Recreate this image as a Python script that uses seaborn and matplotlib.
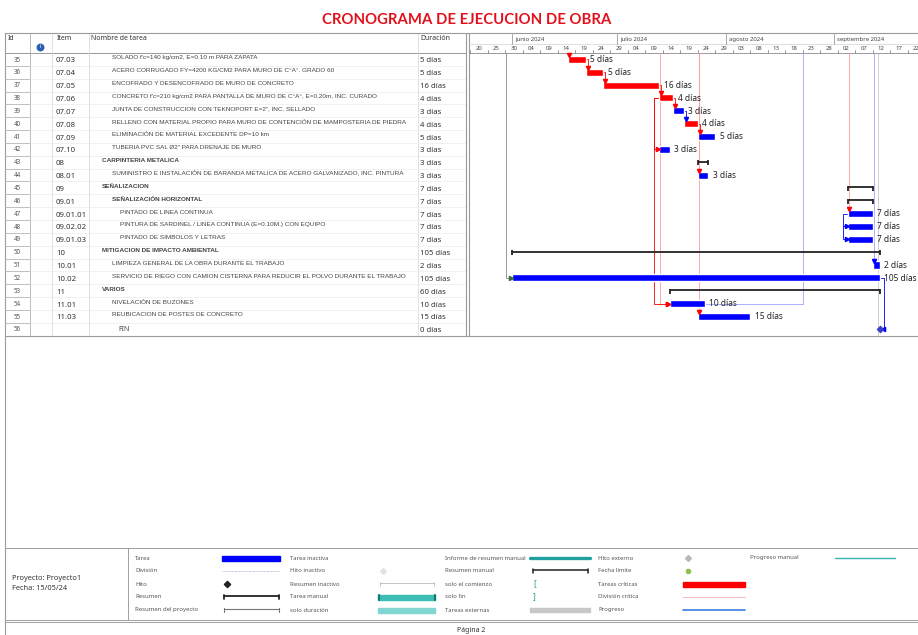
import numpy as np
import pandas as pd
import matplotlib.pyplot as plt
import matplotlib.dates as mdates
from matplotlib.patches import Rectangle
import seaborn as sns

sns.set_theme(style="white")
plt.rcParams["font.family"] = ["Noto Sans", "DejaVu Sans"]

title = "CRONOGRAMA DE EJECUCION DE OBRA"
task_ids = list(range(35, 57))
items = ["07.03", "07.04", "07.05", "07.06", "07.07", "07.08", "07.09", "07.10",
         "08", "08.01", "09", "09.01", "09.01.01", "09.02.02", "09.01.03",
         "10", "10.01", "10.02", "11", "11.01", "11.03", ""]
names = [
    "SOLADO f'c=140 kg/cm2, E=0.10 m PARA ZAPATA",
    "ACERO CORRUGADO FY=4200 KG/CM2 PARA MURO DE C°A°. GRADO 60",
    "ENCOFRADO Y DESENCOFRADO DE MURO DE CONCRETO",
    "CONCRETO f'c=210 kg/cm2 PARA PANTALLA DE MURO DE C°A°, E=0.20m, INC. CURADO",
    "JUNTA DE CONSTRUCCION CON TEKNOPORT E=2\", INC. SELLADO",
    "RELLENO CON MATERIAL PROPIO PARA MURO DE CONTENCIÓN DE MAMPOSTERIA DE PIEDRA",
    "ELIMINACIÓN DE MATERIAL EXCEDENTE DP=10 km",
    "TUBERIA PVC SAL Ø2\" PARA DRENAJE DE MURO",
    "CARPINTERIA METALICA",
    "SUMINISTRO E INSTALACIÓN DE BARANDA METALICA DE ACERO GALVANIZADO, INC. PINTURA",
    "SEÑALIZACION",
    "SEÑALIZACIÓN HORIZONTAL",
    "PINTADO DE LINEA CONTINUA",
    "PINTURA DE SARDINEL / LINEA CONTINUA (E=0.10M.) CON EQUIPO",
    "PINTADO DE SIMBOLOS Y LETRAS",
    "MITIGACION DE IMPACTO AMBIENTAL",
    "LIMPIEZA GENERAL DE LA OBRA DURANTE EL TRABAJO",
    "SERVICIO DE RIEGO CON CAMION CISTERNA PARA REDUCIR EL POLVO DURANTE EL TRABAJO",
    "VARIOS",
    "NIVELACIÓN DE BUZONES",
    "REUBICACION DE POSTES DE CONCRETO",
    "FIN",
]
levels = [2, 2, 2, 2, 2, 2, 2, 2, 1, 2, 1, 2, 3, 3, 3, 1, 2, 2, 1, 2, 2, 2]
durations = [5, 5, 16, 4, 3, 4, 5, 3, 3, 3, 7, 7, 7, 7, 7, 105, 2, 105, 60, 10, 15, 0]
start_dates = ["2024-06-17", "2024-06-22", "2024-06-27", "2024-07-13", "2024-07-17",
               "2024-07-20", "2024-07-24", "2024-07-13", "2024-07-24", "2024-07-24",
               "2024-09-05", "2024-09-05", "2024-09-05", "2024-09-05", "2024-09-05",
               "2024-06-01", "2024-09-12", "2024-06-01", "2024-07-16", "2024-07-16",
               "2024-07-24", "2024-09-14"]
kinds = ["crit", "crit", "crit", "crit", "task", "crit", "task", "task", "sum", "task",
         "sum", "sum", "task", "task", "task", "sum", "task", "task", "sum", "task",
         "task", "mile"]

fs_links = [(35, 36), (36, 37), (37, 38), (38, 39), (39, 40), (40, 41), (52, 56)]
ss_links = [(38, 42), (38, 54), (47, 48), (48, 49)]
# links coming from tasks on the previous page (target, critical)
page_in = [(35, True), (44, True), (55, True), (47, True), (51, False), (52, False), (54, True)]
page_out = [(54, "2024-08-23")]

scale_start = "2024-05-20"
scale_end = "2024-09-22"
month_labels = ["junio 2024", "julio 2024", "agosto 2024", "septiembre 2024"]
month_starts = ["2024-06-01", "2024-07-01", "2024-08-01", "2024-09-01"]

project_name = "Proyecto: Proyecto1"
project_date = "Fecha: 15/05/24"
page_label = "Página 2"

legend_cols = [
    [("Tarea", "task"), ("División", "split"), ("Hito", "mile"),
     ("Resumen", "summary"), ("Resumen del proyecto", "proj_summary")],
    [("Tarea inactiva", "inactive_task"), ("Hito inactivo", "inactive_mile"),
     ("Resumen inactivo", "inactive_summary"), ("Tarea manual", "manual_task"),
     ("solo duración", "duration_only")],
    [("Informe de resumen manual", "manual_rollup"), ("Resumen manual", "manual_summary"),
     ("solo el comienzo", "start_only"), ("solo fin", "finish_only"),
     ("Tareas externas", "external")],
    [("Hito externo", "ext_mile"), ("Fecha límite", "deadline"),
     ("Tareas críticas", "critical"), ("División crítica", "crit_split"),
     ("Progreso", "progress")],
    [("Progreso manual", "manual_progress")],
]

df = pd.DataFrame({"id": task_ids, "item": items, "name": names, "level": levels,
                   "dur": durations, "start_date": start_dates, "kind": kinds})
df["row"] = np.arange(len(df))
df["start"] = mdates.date2num(pd.to_datetime(df["start_date"]))
df["end"] = df["start"] + df["dur"]
df = df.set_index("id", drop=False)

RED = "#ff0000"
BLUE = "#0000ff"
LRED = "#ff9c9c"
LBLUE = "#a0a0ff"

# ---- figure ----
W, H = 918, 635
fig = plt.figure(figsize=(W / 100, H / 100), dpi=100)


def px_axes(x0, y0, x1, y1, z=1):
    a = fig.add_axes([x0 / W, 1 - y1 / H, (x1 - x0) / W, (y1 - y0) / H], zorder=z)
    a.set_axis_off()
    return a


# frame axes in pixels
fa = px_axes(0, 0, W, H, z=0)
fa.set_xlim(0, W)
fa.set_ylim(H, 0)
fa.text(467, 20, title, color="#e3101c", fontsize=10.7, fontweight="bold",
        ha="center", va="center", family="Lato")
for xs, ys in [([5, 918], [33, 33]), ([5, 5], [33, 635]), ([5, 918], [336, 336]),
               ([466, 466], [33, 336]), ([469, 469], [33, 336])]:
    fa.plot(xs, ys, color="#9a9a9a", lw=0.8)

# row geometry
ROW_Y0, ROW_H = 59.4, 12.85
y_top = (34 - ROW_Y0) / ROW_H
y_bot = (336 - ROW_Y0) / ROW_H

# ---- table ----
ta = px_axes(5, 34, 466, 336)
ta.set_xlim(5, 466)
ta.set_ylim(y_bot, y_top)
ta.axhline(-0.5, color="#9a9a9a", lw=0.7)
for xc in [52, 89, 418]:
    ta.axvline(xc, color="#dadada", lw=0.6)
ta.axvline(30, color="#b0b0b0", lw=0.6)
for r in range(len(df)):
    ta.plot([5, 30], [r + 0.5, r + 0.5], color="#b5b5b5", lw=0.6)
    ta.plot([30, 466], [r + 0.5, r + 0.5], color="#ececec", lw=0.5)

hdr_y = -1.62
ta.text(8, hdr_y, "Id", fontsize=5, va="center", color="#333")
ta.text(57, hdr_y, "Item", fontsize=5, va="center", color="#333")
ta.text(91, hdr_y, "Nombre de tarea", fontsize=5, va="center", color="#333")
ta.text(420, hdr_y, "Duración", fontsize=5, va="center", color="#333")
ta.scatter([40], [-1.0], s=22, color="#2d5fae", zorder=3)
ta.text(40, -1.0, "i", fontsize=4, color="white", fontweight="bold",
        ha="center", va="center", zorder=4)

name_x = {1: 102, 2: 112, 3: 120}
for _, t in df.iterrows():
    r = t["row"]
    bold = "bold" if t["kind"] == "sum" else "normal"
    ta.text(17, r + 0.05, str(t["id"]), fontsize=4.5, ha="center", va="center", color="#555")
    ta.text(56, r + 0.12, t["item"], fontsize=5.6, va="center", color="#333", fontweight=bold)
    if t["kind"] == "mile":
        ta.text(118, r, t["name"], fontsize=5, va="center", color="#444")
    else:
        ta.text(name_x[t["level"]], r - 0.12, t["name"], fontsize=4.6, va="center",
                color="#444", fontweight=bold, family="Liberation Sans")
    ta.text(420, r + 0.12, f"{t['dur']} días", fontsize=5.6, va="center",
            color="#333", fontweight=bold)

# ---- gantt ----
ga = px_axes(469, 34, 918, 336)
d0 = mdates.date2num(pd.Timestamp(scale_start))
ga.set_xlim(d0 - 0.29, d0 + 128)
ga.set_ylim(y_bot, y_top)

# timescale
ga.axhline(-0.5, color="#9a9a9a", lw=0.7)
ga.axhline(-1.2, color="#d0d0d0", lw=0.5)
for lbl, ms in zip(month_labels, month_starts):
    m = mdates.date2num(pd.Timestamp(ms))
    ga.plot([m, m], [-1.95, -1.2], color="#999", lw=0.6)
    ga.text(m + 0.9, -1.58, lbl, fontsize=4.3, va="center", color="#444")
days = pd.date_range(scale_start, scale_end, freq="5D")
for d in days:
    x = mdates.date2num(d)
    ga.plot([x, x], [-0.5, -0.72], color="#888", lw=0.6)
    ga.text(x + 2.5, -0.85, d.strftime("%d"), fontsize=4.3, ha="center", va="center", color="#444")


def link_line(xs, ys, color, lw=0.6):
    ga.plot(xs, ys, color=color, lw=lw, zorder=2)


def arrow(x, y, mk, color):
    ga.plot(x, y, marker=mk, ms=3, color=color, mec=color, zorder=4, ls="none")


# links from previous page
for tid, crit in page_in:
    t = df.loc[tid]
    col = LRED if crit else LBLUE
    acol = RED if crit else BLUE
    if tid in (52, 54):
        x = t["start"] - (1.7 if tid == 52 else 2.7)
        link_line([x, x, t["start"]], [-0.5, t["row"], t["row"]],
                  "#8a8a8a" if tid == 52 else col)
        arrow(t["start"] - 0.3, t["row"], ">", acol if tid == 54 else "#3a6a3a")
    else:
        x = t["start"] + 0.4
        link_line([x, x], [-0.5, t["row"] - 0.3], col)
        arrow(x, t["row"] - 0.35, "v", acol)

for tid, ds in page_out:
    t = df.loc[tid]
    x = mdates.date2num(pd.Timestamp(ds))
    link_line([t["end"], x, x], [t["row"], t["row"], -0.5], LBLUE)

# project end guide
end_x = df["end"].max() - 0.4
ga.plot([end_x, end_x], [-0.5, y_bot], color="#c8c8c8", lw=0.6, zorder=1)

for p, s in fs_links:
    a, b = df.loc[p], df.loc[s]
    col = RED if a["kind"] == "crit" else BLUE
    if b["kind"] == "mile":
        x = a["end"] + 1.2
        link_line([a["end"], x, x, b["start"] + 0.6], [a["row"], a["row"], b["row"], b["row"]], col)
        arrow(b["start"] + 0.9, b["row"], "<", col)
    else:
        x = b["start"] + 0.6
        link_line([a["end"], x, x], [a["row"], a["row"], b["row"] - 0.3], col)
        arrow(x, b["row"] - 0.35, "v", col)

for p, s in ss_links:
    a, b = df.loc[p], df.loc[s]
    col = RED if a["kind"] == "crit" else BLUE
    x = min(a["start"], b["start"]) - 1.5
    link_line([a["start"], x, x, b["start"]], [a["row"], a["row"], b["row"], b["row"]], col)
    arrow(b["start"] - 0.3, b["row"], ">", col)

# bars
bars = df[df["kind"].isin(["task", "crit"])]
ga.barh(bars["row"], bars["dur"], left=bars["start"], height=0.55,
        color=[RED if k == "crit" else BLUE for k in bars["kind"]], zorder=3)
for _, t in bars.iterrows():
    ga.text(t["end"] + 1.3, t["row"] + 0.02, f"{t['dur']} días", fontsize=6,
            fontweight="bold", va="center", color="#222", zorder=5)

sums = df[df["kind"] == "sum"]
ga.hlines(sums["row"] - 0.05, sums["start"], sums["end"], color="#222", lw=1.3, zorder=3)
ga.vlines(sums["start"], sums["row"] - 0.15, sums["row"] + 0.25, color="#222", lw=1.3, zorder=3)
ga.vlines(sums["end"], sums["row"] - 0.15, sums["row"] + 0.25, color="#222", lw=1.3, zorder=3)

miles = df[df["kind"] == "mile"]
sns.scatterplot(x=miles["start"], y=miles["row"], marker="D", s=14, color="#3a3ad0",
                edgecolor="#3a3ad0", ax=ga, zorder=5, legend=False)
ga.set_xlim(d0 - 0.29, d0 + 128)
ga.set_ylim(y_bot, y_top)
ga.set_axis_off()

# ---- legend box ----
for xs, ys in [([5, 918], [548, 548]), ([5, 918], [620, 620]), ([5, 918], [622, 622]),
               ([128, 128], [548, 620])]:
    fa.plot(xs, ys, color="#a0a0a0", lw=0.7)
fa.text(12, 578, project_name, fontsize=5.3, va="center", color="#333")
fa.text(12, 589, project_date, fontsize=5.3, va="center", color="#333")
fa.text(457, 630, page_label, fontsize=5, va="center", color="#333")

label_x = [135, 290, 445, 598, 750]
sym_x = [(222, 280), (378, 435), (530, 590), (683, 745), (835, 895)]
row_y = [558, 571, 584, 597, 610]


def bracket(x0, x1, y, color, lw):
    fa.plot([x0, x1], [y - 1.2, y - 1.2], color=color, lw=lw)
    fa.plot([x0, x0], [y - 2.2, y + 2], color=color, lw=lw)
    fa.plot([x1, x1], [y - 2.2, y + 2], color=color, lw=lw)


def draw_sym(kind, x0, x1, y):
    if kind == "task":
        fa.add_patch(Rectangle((x0, y - 2.5), x1 - x0, 5, color=BLUE))
    elif kind == "critical":
        fa.add_patch(Rectangle((x0, y - 2.5), x1 - x0, 5, color=RED))
    elif kind == "external":
        fa.add_patch(Rectangle((x0, y - 2.2), x1 - x0, 4.4, color="#c8c8c8"))
    elif kind == "duration_only":
        fa.add_patch(Rectangle((x0, y - 2.5), x1 - x0, 5, color="#7fd6d2"))
    elif kind == "manual_task":
        fa.add_patch(Rectangle((x0, y - 2.5), x1 - x0, 5, color="#3dbdb3"))
        fa.plot([x0 + 0.5, x0 + 0.5], [y - 2.5, y + 2.5], color="#127a70", lw=1.5)
        fa.plot([x1 - 0.5, x1 - 0.5], [y - 2.5, y + 2.5], color="#127a70", lw=1.5)
    elif kind == "split":
        fa.plot([x0, x1], [y, y], color="#9090c8", lw=0.5, ls=(0, (1, 1)))
    elif kind == "crit_split":
        fa.plot([x0, x1], [y, y], color="#f2b8b8", lw=0.7)
    elif kind == "progress":
        fa.plot([x0, x1], [y, y], color="#3b7ddd", lw=1.2)
    elif kind == "manual_progress":
        fa.plot([x0, x1], [y, y], color="#35b5b0", lw=1.0)
    elif kind == "manual_rollup":
        fa.plot([x0, x1], [y, y], color="#1ea0a0", lw=2.4)
    elif kind == "mile":
        fa.plot(x0 + 5, y, marker="D", ms=3.2, color="#222")
    elif kind == "inactive_mile":
        fa.plot(x0 + 5, y, marker="D", ms=3, color="#e2e2e2")
    elif kind == "ext_mile":
        fa.plot(x0 + 5, y, marker="D", ms=3, color="#b8b8b8")
    elif kind == "deadline":
        fa.plot(x0 + 5, y, marker="o", ms=3, color="#8fc04a")
    elif kind == "summary":
        bracket(x0 + 2, x1 - 1, y, "#222", 1.3)
    elif kind == "manual_summary":
        bracket(x0 + 3, x1 - 2, y, "#222", 1.1)
    elif kind == "proj_summary":
        bracket(x0 + 2, x1 - 1, y, "#777", 0.8)
    elif kind == "inactive_summary":
        bracket(x0 + 2, x1 - 1, y, "#bbbbbb", 0.6)
    elif kind == "start_only":
        fa.text(x0 + 3, y, "[", color="#1e9e8e", fontsize=6, fontweight="bold", va="center")
    elif kind == "finish_only":
        fa.text(x0 + 3, y, "]", color="#1e9e8e", fontsize=6, fontweight="bold", va="center")


for ci, col in enumerate(legend_cols):
    for ri, (lbl, kind) in enumerate(col):
        y = row_y[ri]
        fa.text(label_x[ci], y, lbl, fontsize=4.3, va="center", color="#555")
        draw_sym(kind, sym_x[ci][0], sym_x[ci][1], y)

fig.savefig("out.png", dpi=100)
